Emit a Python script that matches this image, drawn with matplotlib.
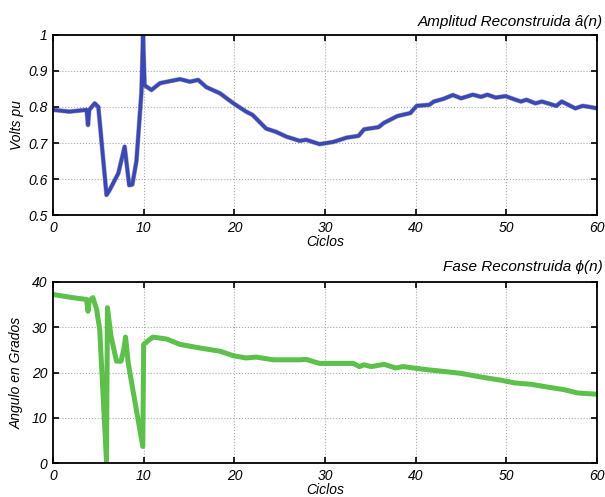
import matplotlib
matplotlib.use("Agg")
import matplotlib.pyplot as plt

plt.rcParams.update({
    "font.family": ["Liberation Sans", "DejaVu Sans"],
    "font.style": "italic",
    "font.size": 10,
})

# amplitude trace (Volts pu vs ciclos)
amp_x = [0, 1.8, 3.7, 3.86, 4.0, 4.6, 5.0, 5.9, 6.25, 7.2, 7.9, 8.4, 8.75, 9.2,
         9.75, 9.93, 10.1, 10.85, 11.8, 14.0, 15.1, 16.0, 16.9, 18.4, 19.9,
         21.3, 22.0, 23.5, 24.6, 25.7, 27.2, 27.9, 29.4, 30.9, 32.4, 33.7,
         34.3, 35.9, 36.5, 38.0, 39.4, 40.1, 41.5, 42.0, 43.0, 44.1, 45.0,
         46.3, 47.2, 47.9, 48.8, 49.9, 51.0, 51.6, 52.2, 53.2, 53.9, 55.5,
         56.1, 57.6, 58.4, 59.2, 60.0]
amp_y = [0.792, 0.787, 0.792, 0.75, 0.792, 0.81, 0.80, 0.556, 0.57, 0.616,
         0.69, 0.583, 0.585, 0.65, 0.84, 1.0, 0.86, 0.847, 0.866, 0.877, 0.87,
         0.875, 0.855, 0.838, 0.81, 0.787, 0.778, 0.74, 0.731, 0.718, 0.706,
         0.709, 0.697, 0.703, 0.715, 0.72, 0.738, 0.744, 0.756, 0.775, 0.783,
         0.803, 0.806, 0.815, 0.822, 0.833, 0.824, 0.834, 0.828, 0.834, 0.826,
         0.83, 0.82, 0.815, 0.82, 0.81, 0.815, 0.803, 0.815, 0.796, 0.803,
         0.80, 0.796]

# phase trace (degrees vs ciclos)
fase_x = [0, 2.2, 3.7, 3.86, 4.0, 4.4, 4.8, 5.15, 5.9, 6.0, 6.4, 7.0, 7.5,
          7.8, 8.0, 8.3, 9.9, 10.0, 11.0, 12.5, 14.0, 16.2, 18.4, 19.9, 21.3,
          22.4, 24.3, 27.2, 27.9, 29.4, 33.1, 33.8, 34.3, 35.1, 36.5, 37.8,
          38.6, 41.3, 42.8, 45.0, 47.2, 49.4, 50.9, 52.7, 54.5, 56.4, 57.8,
          60.0]
fase_y = [37.2, 36.5, 36.1, 33.5, 35.8, 36.5, 34.0, 29.5, 0.4, 34.3, 28.0,
          22.5, 22.5, 25.0, 27.8, 22.0, 3.7, 26.2, 27.8, 27.4, 26.2, 25.4,
          24.7, 23.7, 23.2, 23.4, 22.8, 22.8, 22.9, 22.0, 22.0, 21.3, 21.7,
          21.3, 21.8, 21.0, 21.3, 20.6, 20.3, 19.8, 19.0, 18.3, 17.7, 17.4,
          16.8, 16.2, 15.5, 15.2]

fig = plt.figure(figsize=(6.05, 4.97), dpi=100)
ax1 = fig.add_axes([0.0876, 0.567, 0.8994, 0.363])
ax2 = fig.add_axes([0.0876, 0.068, 0.8994, 0.365])

ax1.plot(amp_x, amp_y, color="#55586e", lw=3.4, alpha=0.5)
ax1.plot(amp_x, amp_y, color="#3a47b4", lw=2.6)
ax1.set_xlim(0, 60)
ax1.set_ylim(0.5, 1.0)
ax1.set_yticks([0.5, 0.6, 0.7, 0.8, 0.9, 1.0])
ax1.set_yticklabels(["0.5", "0.6", "0.7", "0.8", "0.9", "1"])
ax1.set_ylabel("Volts pu", labelpad=3)
ax1.set_xlabel("Ciclos", labelpad=0)

ax2.plot(fase_x, fase_y, color="#5cc04a", lw=3.6)
ax2.set_xlim(0, 60)
ax2.set_ylim(0, 40)
ax2.set_yticks([0, 10, 20, 30, 40])
ax2.set_ylabel("Angulo en Grados", labelpad=6)
ax2.set_xlabel("Ciclos", labelpad=0)

for ax in (ax1, ax2):
    ax.set_xticks([0, 10, 20, 30, 40, 50, 60])
    ax.grid(True, color="#aaaaaa", linestyle=":", linewidth=0.8)
    ax.tick_params(direction="in", top=True, right=True, length=4, width=1.2,
                   labelsize=10, pad=4)
    for s in ax.spines.values():
        s.set_linewidth(1.3)
    for lab in ax.get_xticklabels() + ax.get_yticklabels():
        lab.set_fontstyle("italic")

fig.text(0.996, 0.955, "Amplitud Reconstruida â(n)", ha="right",
         va="center", fontsize=11, style="italic")
fig.text(0.996, 0.462, "Fase Reconstruida ϕ(n)", ha="right",
         va="center", fontsize=11, style="italic")

fig.savefig("out.png", dpi=100)
